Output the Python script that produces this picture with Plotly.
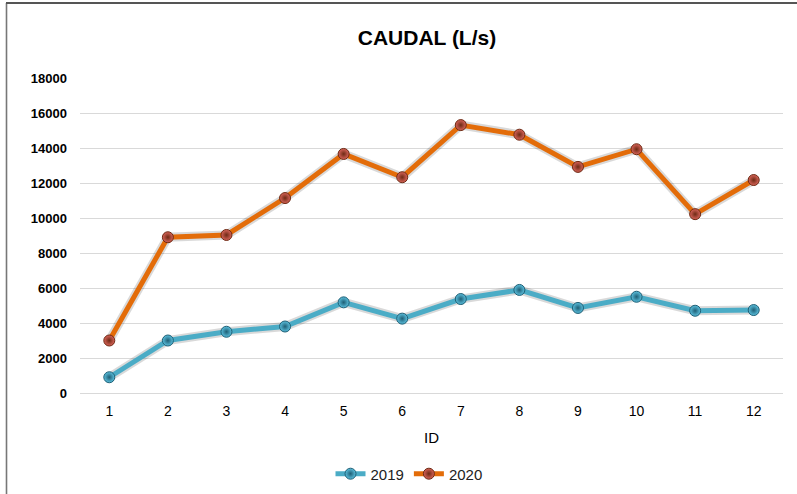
import plotly.graph_objects as go

ids = [1, 2, 3, 4, 5, 6, 7, 8, 9, 10, 11, 12]
tick_labels = [str(i) for i in ids]
caudal_2019 = [900, 3000, 3500, 3800, 5180, 4250, 5370, 5890, 4860, 5500, 4700, 4740]
caudal_2020 = [3000, 8900, 9030, 11140, 13660, 12330, 15310, 14760, 12920, 13930, 10220, 12170]

series = [
    ("2019", caudal_2019, "#4BACC6", "#5BC0DE", "#1F5F75"),
    ("2020", caudal_2020, "#E36C09", "#D9645A", "#6E2A14"),
]

fig = go.Figure()
x_cat = [str(i) for i in ids]

# soft shadows beneath the lines
for name, vals, lc, mc, mb in series:
    fig.add_trace(go.Scatter(
        x=x_cat, y=vals, mode="lines", showlegend=False, hoverinfo="skip",
        line=dict(color="rgba(0,0,0,0.15)", width=9),
    ))

for name, vals, lc, mc, mb in series:
    fig.add_trace(go.Scatter(
        x=x_cat, y=vals, name=name, mode="lines+markers",
        line=dict(color=lc, width=5),
        marker=dict(symbol="circle", size=11, color=mc,
                    gradient=dict(type="radial", color=mb),
                    line=dict(color=mb, width=1)),
    ))

FONT_N = "Liberation Sans Narrow, Arial Narrow, Liberation Sans, Arial"

L, T, W, H = 80, 78, 703, 315
def px(x):
    return (x - L) / W
def py(y):
    return (T + H - y) / H

fig.update_layout(
    width=797, height=494,
    margin=dict(l=80, r=14, t=78, b=101, autoexpand=False),
    paper_bgcolor="white", plot_bgcolor="white",
    title=dict(
        text="<b>CAUDAL (L/s)</b>", x=427 / 797, xanchor="center", xref="container",
        y=1 - 38 / 494, yanchor="middle", yref="container",
        font=dict(family=FONT_N, size=21, color="black"),
    ),
    font=dict(family=FONT_N, color="black"),
    showlegend=True,
    legend=dict(
        orientation="h", x=0.468, xanchor="center", y=-0.257, yanchor="middle",
        font=dict(size=15, family="Liberation Sans, Arial", color="#222"),
        itemwidth=30, tracegroupgap=0,
    ),
    shapes=[
        dict(type="line", xref="paper", yref="paper",
             x0=px(6), x1=px(797), y0=py(3), y1=py(3),
             line=dict(color="#555555", width=2), layer="above"),
        dict(type="line", xref="paper", yref="paper",
             x0=px(6.5), x1=px(6.5), y0=py(3), y1=py(494),
             line=dict(color="#777777", width=1.6), layer="above"),
    ],
)

fig.update_xaxes(
    type="category", tickvals=x_cat, ticktext=tick_labels, automargin=False,
    range=[-0.5, len(x_cat) - 0.5], autorange=False,
    showgrid=False, showline=False, zeroline=False, ticks="",
    tickfont=dict(size=14, family=FONT_N, color="black"),
    ticklabelstandoff=8,
    title=dict(text="ID", font=dict(size=15, family=FONT_N, color="black"), standoff=14),
)
fig.update_yaxes(
    range=[0, 18000], dtick=2000, tickformat="d", automargin=False,
    showgrid=True, gridcolor="#D9D9D9", gridwidth=1.2,
    zeroline=True, zerolinecolor="#D9D9D9", zerolinewidth=1.2,
    showline=False, ticks="",
    tickfont=dict(size=13, family="Liberation Sans, Arial", color="black", weight="bold"),
    ticklabelstandoff=12,
)

post = (
    "document.body.style.margin='0';"
    "var f=document.createElement('div');"
    "f.style.cssText='position:absolute;left:6px;top:2px;width:791px;height:2px;"
    "background:#555;z-index:10;pointer-events:none';"
    "document.body.appendChild(f);"
)
fig.write_html("out.html", config={"displayModeBar": False}, post_script=post)
